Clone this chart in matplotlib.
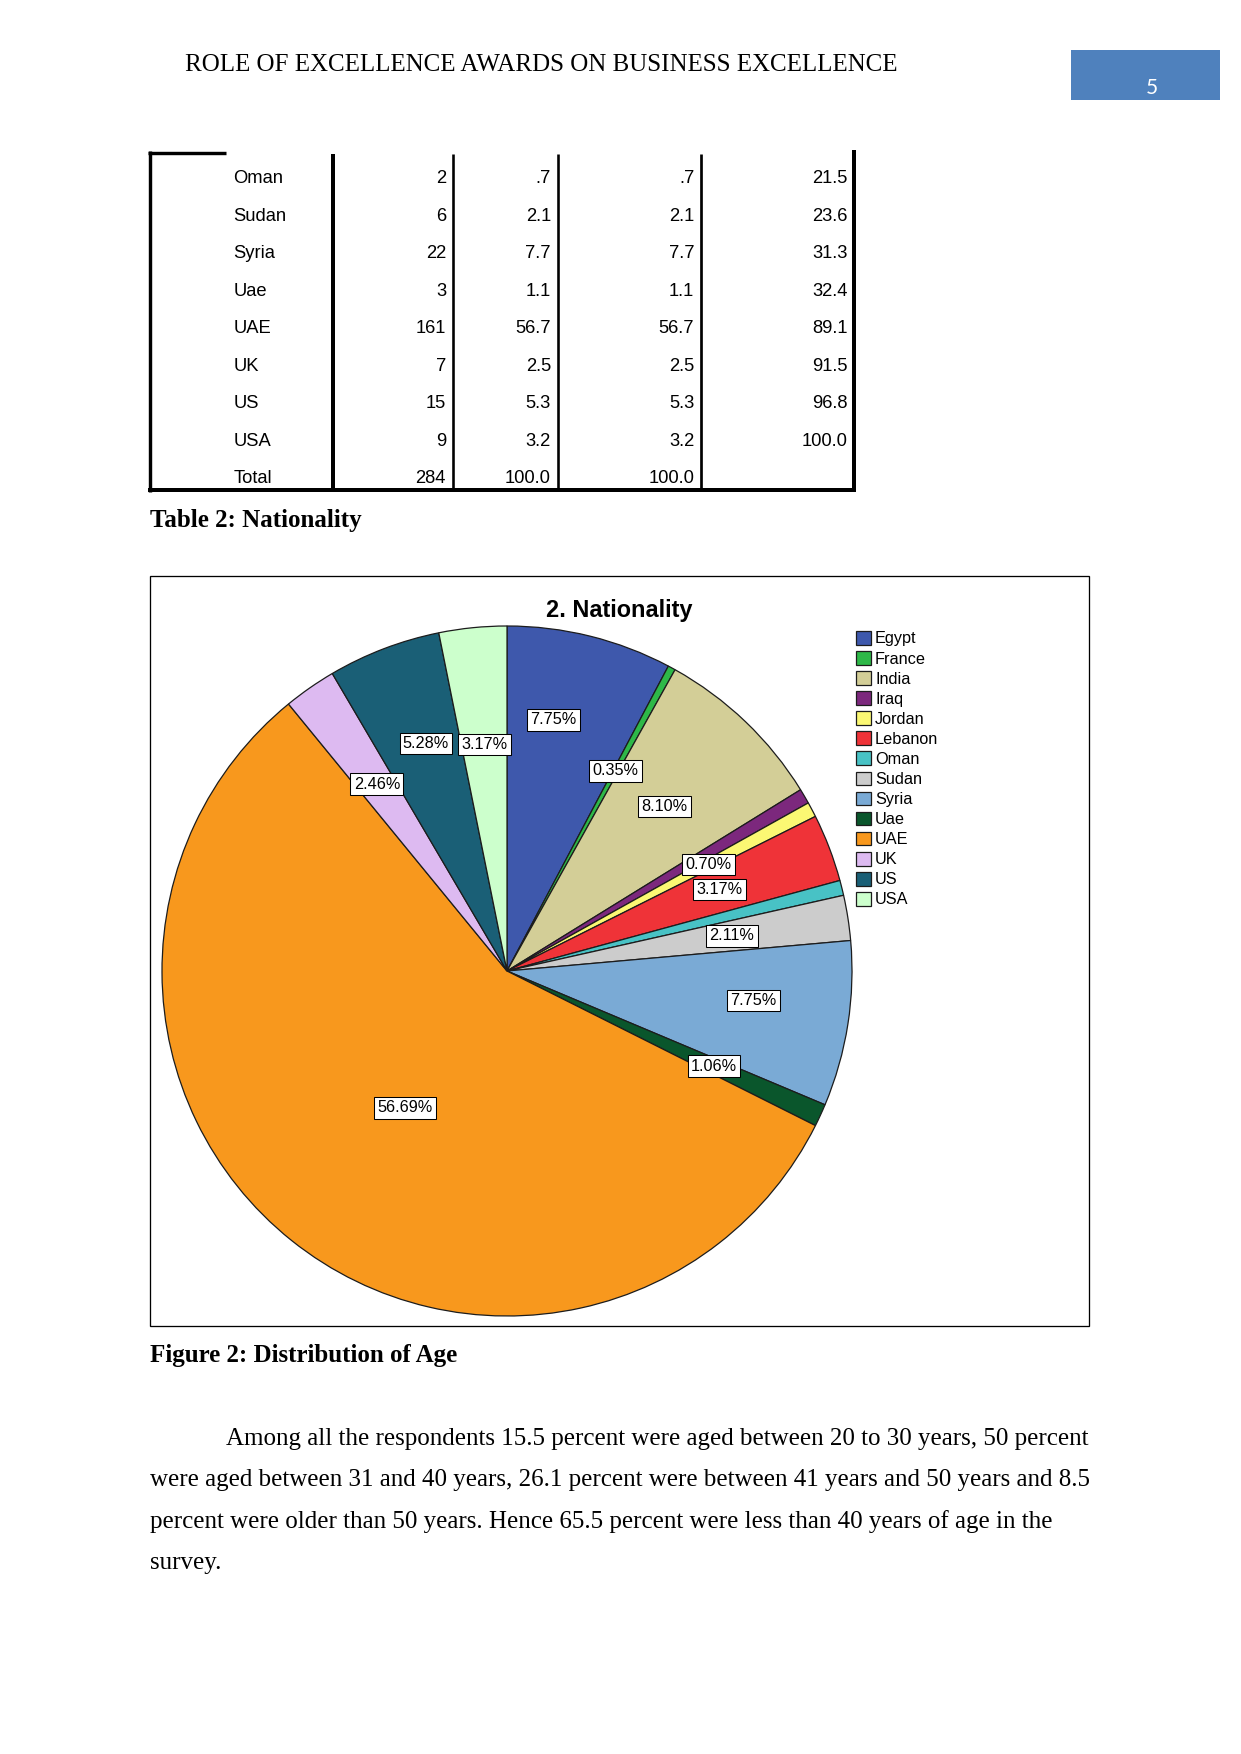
import matplotlib
matplotlib.use("Agg")
import matplotlib.pyplot as plt
from matplotlib.lines import Line2D
from matplotlib.patches import Rectangle
import numpy as np

# ---------------- data ----------------
header_text = "ROLE OF EXCELLENCE AWARDS ON BUSINESS EXCELLENCE"
page_number = "5"

table_rows = ["Oman", "Sudan", "Syria", "Uae", "UAE", "UK", "US", "USA", "Total"]
table_freq = ["2", "6", "22", "3", "161", "7", "15", "9", "284"]
table_percent = [".7", "2.1", "7.7", "1.1", "56.7", "2.5", "5.3", "3.2", "100.0"]
table_valid = [".7", "2.1", "7.7", "1.1", "56.7", "2.5", "5.3", "3.2", "100.0"]
table_cum = ["21.5", "23.6", "31.3", "32.4", "89.1", "91.5", "96.8", "100.0", ""]
table_caption = "Table 2: Nationality"

chart_title = "2. Nationality"
nationalities = ["Egypt", "France", "India", "Iraq", "Jordan", "Lebanon", "Oman",
                 "Sudan", "Syria", "Uae", "UAE", "UK", "US", "USA"]
counts = [22, 1, 23, 2, 2, 9, 2, 6, 22, 3, 161, 7, 15, 9]
shown_labels = [True, True, True, False, True, True, False,
                True, True, True, True, True, True, True]
figure_caption = "Figure 2: Distribution of Age"

paragraph_lines = [
    "Among all the respondents 15.5 percent were aged between 20 to 30 years, 50 percent",
    "were aged between 31 and 40 years, 26.1 percent were between 41 years and 50 years and 8.5",
    "percent were older than 50 years. Hence 65.5 percent were less than 40 years of age in the",
    "survey.",
]

# ---------------- style ----------------
colors = ["#3E58AC", "#2EB848", "#D3CE97", "#7C287D", "#FBF873", "#EF3338", "#48C2C5",
          "#CCCCCC", "#7AAAD5", "#0A562C", "#F8981D", "#DDBAF1", "#1A5F76", "#CCFFCC"]
label_radius = {"Egypt": (0.74, 3.5), "US": (0.70, -1.3), "Syria": (0.72, 2.1), "UAE": (0.495, 2.0)}
default_label_radius = 0.66

W, H, DPI = 1241, 1754, 150
fig = plt.figure(figsize=(W / DPI, H / DPI), dpi=DPI)
fig.patch.set_facecolor("white")

def fx(x):
    return x / W

def fy(y):
    return 1 - y / H

def pxlw(px):
    return px * 72.0 / DPI

serif = ["Liberation Serif", "DejaVu Serif"]
sans = ["Liberation Sans", "DejaVu Sans"]

def hline(x0, x1, y, w):
    fig.add_artist(Line2D([fx(x0), fx(x1)], [fy(y), fy(y)], transform=fig.transFigure,
                          lw=pxlw(w), color="black", solid_capstyle="butt"))

def vline(x, y0, y1, w):
    fig.add_artist(Line2D([fx(x), fx(x)], [fy(y0), fy(y1)], transform=fig.transFigure,
                          lw=pxlw(w), color="black", solid_capstyle="butt"))

# ---------------- header ----------------
fig.text(fx(185), fy(70.7), header_text, family=serif, fontsize=12, va="baseline", ha="left")
fig.add_artist(Rectangle((fx(1071), fy(100)), fx(1220) - fx(1071), fy(50) - fy(100),
                         transform=fig.transFigure, facecolor="#4F81BD", edgecolor="none"))
fig.text(fx(1151.5), fy(93.5), page_number, family=["Lato", "DejaVu Sans"], fontsize=10,
         color="white", ha="center", va="baseline")

# ---------------- table ----------------
vline(150, 151, 491.7, 3.4)
hline(148.3, 226, 152.5, 3.4)
vline(333, 154, 490, 4)
vline(453, 154, 490, 2.6)
vline(558, 154, 490, 2.6)
vline(701.3, 154, 490, 2.7)
vline(853.7, 150, 491.7, 4)
hline(148.3, 855.7, 489.7, 4)

row_y0, row_step = 183.3, 37.5
col_right = [446, 551, 694.3, 847.7]
for i, name in enumerate(table_rows):
    y = fy(row_y0 + i * row_step)
    fig.text(fx(233.3), y, name, family=sans, fontsize=8.8, va="baseline", ha="left")
    for xr, col in zip(col_right, [table_freq, table_percent, table_valid, table_cum]):
        if col[i]:
            fig.text(fx(xr), y, col[i], family=sans, fontsize=8.8, va="baseline", ha="right")

fig.text(fx(150), fy(526.7), table_caption, family=serif, fontsize=12, weight="bold",
         va="baseline", ha="left")

# ---------------- figure box ----------------
fig.add_artist(Rectangle((fx(150), fy(1326)), fx(1089) - fx(150), fy(576) - fy(1326),
                         transform=fig.transFigure, facecolor="none", edgecolor="black",
                         lw=pxlw(1.3)))

fig.text(fx(619), fy(617), chart_title, family=sans, fontsize=11.3, weight="bold",
         ha="center", va="baseline")

# ---------------- pie ----------------
cx, cy, R = 507, 971, 345
ax = fig.add_axes([fx(cx - R), fy(cy + R), 2 * R / W, 2 * R / H])
wedges, _ = ax.pie(counts, colors=colors, startangle=90, counterclock=False, radius=1,
                   wedgeprops=dict(edgecolor="#1c1c1c", linewidth=0.6))
ax.set_xlim(-1, 1)
ax.set_ylim(-1, 1)
ax.set_aspect("equal")
ax.axis("off")

total = sum(counts)
for w, name, c, show in zip(wedges, nationalities, counts, shown_labels):
    if not show:
        continue
    r, dang = label_radius.get(name, (default_label_radius, 0.0))
    ang = np.deg2rad((w.theta1 + w.theta2) / 2 + dang)
    ax.text(r * np.cos(ang), r * np.sin(ang), f"{100 * c / total:.2f}%", family=sans,
            fontsize=7.8, ha="center", va="center",
            bbox=dict(boxstyle="square,pad=0.2", facecolor="white", edgecolor="black",
                      linewidth=0.5))

leg = ax.legend(wedges, nationalities, loc="upper left",
                bbox_to_anchor=(fx(856), fy(631)), bbox_transform=fig.transFigure,
                frameon=False, prop={"family": sans, "size": 7.8},
                handlelength=0.92, handleheight=0.92, handletextpad=0.25,
                labelspacing=0.285, borderpad=0, borderaxespad=0)

# ---------------- caption & paragraph ----------------
fig.text(fx(150), fy(1361.7), figure_caption, family=serif, fontsize=12, weight="bold",
         va="baseline", ha="left")
line_x = [226, 150, 150, 150]
line_y0, line_step = 1445, 41.4
for i, (lx, txt) in enumerate(zip(line_x, paragraph_lines)):
    fig.text(fx(lx), fy(line_y0 + i * line_step), txt, family=serif, fontsize=12,
             va="baseline", ha="left")

fig.savefig("out.png", dpi=DPI, facecolor="white")
